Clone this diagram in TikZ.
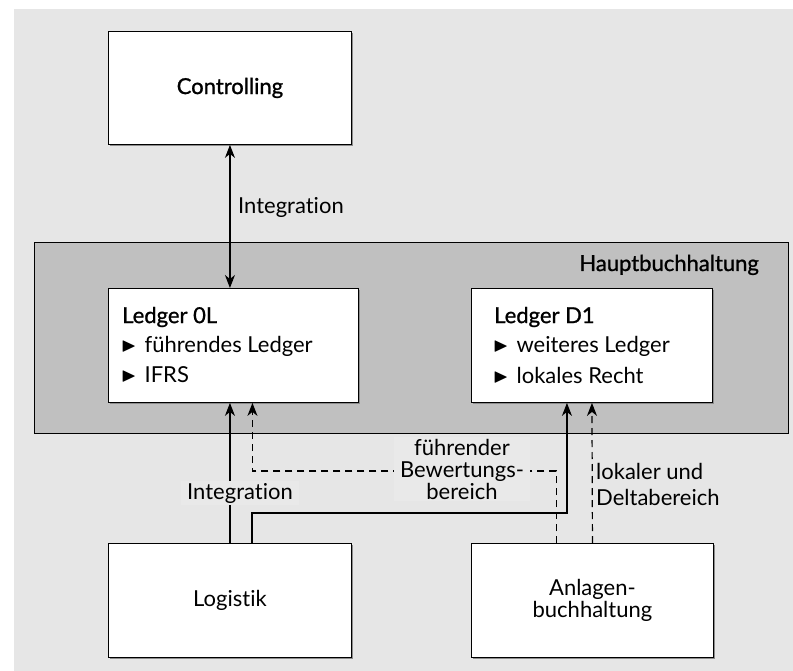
\documentclass[tikz,border=0pt]{standalone}
\usepackage{fontspec}
\setmainfont{Lato}[Ligatures=NoCommon]
\newfontfamily\semib{Lato}[FakeBold=1.1, Ligatures=NoCommon]
\usepackage{amssymb}
\usetikzlibrary{arrows.meta,shadows}
\definecolor{bg}{HTML}{E6E6E6}
\definecolor{hb}{HTML}{C0C0C0}
\definecolor{patch}{HTML}{E9E9E9}
\newcommand{\blt}{\raisebox{1pt}{\scalebox{0.9}{$\blacktriangleright$}}\hspace{8pt}}
\begin{document}
\begin{tikzpicture}[x=1pt,y=-1pt,
  font=\fontsize{22}{22}\selectfont,
  head/.style={font=\fontsize{22}{22}\selectfont\semib},
  box/.style={draw=black, line width=0.9pt, fill=white, inner sep=0pt,
    drop shadow={shadow xshift=1.2pt, shadow yshift=-1.2pt, fill=black!45, opacity=1}},
  lab/.style={inner sep=1pt, align=center},
  conn/.style={line width=1.2pt, draw=black},
  tip/.style={-{Stealth[length=13pt, width=10pt, inset=4pt]}},
  dsh/.style={dash pattern=on 7pt off 5pt}
]
\useasboundingbox (0,0) rectangle (793,671);
\fill[bg] (14,9) rectangle (793,671);

% Hauptbuchhaltung
\node[draw=black, line width=0.9pt, fill=hb, minimum width=754pt, minimum height=191pt,
  anchor=north west, inner sep=0pt] (hb) at (34,242) {};
\node[anchor=base east, inner sep=0pt, head] (hbl) at (759,271) {Hauptbuchhaltung};

% boxes
\node[box, minimum width=243pt, minimum height=113pt, anchor=north west] (ctrl) at (108,31) {};
\node[head] (ctrlt) at (ctrl.center) {Controlling};

\node[box, minimum width=250pt, minimum height=114pt, anchor=north west] (l0) at (108,288) {};
\node[box, minimum width=241pt, minimum height=114pt, anchor=north west] (d1) at (471,288) {};

\node[anchor=west, inner sep=0pt, head] (l0a) at (122,317) {Ledger 0L};
\node[anchor=west, inner sep=0pt] (l0b) at (121,346) {\blt führendes Ledger};
\node[anchor=west, inner sep=0pt] (l0c) at (121,375) {\blt IFRS};

\node[anchor=west, inner sep=0pt, head] (d1a) at (494,317) {Ledger D1};
\node[anchor=west, inner sep=0pt] (d1b) at (493,346) {\blt weiteres Ledger};
\node[anchor=west, inner sep=0pt] (d1c) at (493,375) {\blt lokales Recht};

\node[box, minimum width=243pt, minimum height=114pt, anchor=north west] (log) at (108,543) {};
\node (logt) at (log.center) {Logistik};
\node[box, minimum width=242pt, minimum height=114pt, anchor=north west] (anl) at (471,543) {};
\node[align=center] (anlt) at (anl.center) {Anlagen-\\buchhaltung};

% connectors
\draw[conn, {Stealth[length=13pt, width=10pt, inset=4pt]}-{Stealth[length=13pt, width=10pt, inset=4pt]}]
  (ctrl.south) -- (ctrl.south |- l0.north);
\node[anchor=west, inner sep=0pt] (intup) at (238,207) {Integration};

\draw[conn, tip] (log.north) -- (log.north |- l0.south);
\draw[conn, tip] ([xshift=22pt]log.north) -- ++(0,-30) -| ([xshift=-25pt]d1.south);
\draw[conn, dsh, tip] ([xshift=-36pt]anl.north) -- ++(0,-72) -| ([xshift=19pt]l0.south);
\draw[conn, dsh, tip] (anl.north) -- (d1.south);

\node[lab, fill=patch, inner xsep=6pt, inner ysep=2pt] (intlow) at (240,493) {Integration};
\node[lab, fill=patch, inner xsep=6pt, inner ysep=2pt] (fb) at (462,469) {führender\\Bewertungs-\\bereich};
\node[lab, anchor=west, align=left, font=\fontsize{22}{26}\selectfont] (lok) at (595,484) {lokaler und\\Deltabereich};
\end{tikzpicture}
\end{document}
